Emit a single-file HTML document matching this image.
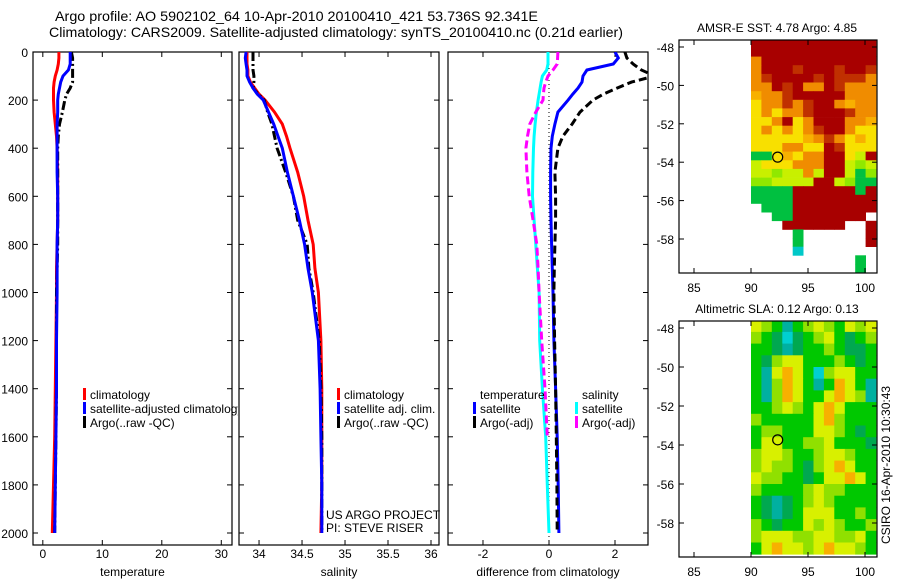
<!DOCTYPE html>
<html><head><meta charset="utf-8"><style>
html,body{margin:0;padding:0;background:#fff;}
svg{display:block;font-family:"Liberation Sans",sans-serif;}
</style></head><body>
<svg id="fig" width="900" height="580" viewBox="0 0 900 580" xmlns="http://www.w3.org/2000/svg">
<text x="55" y="21" font-size="14" textLength="483" lengthAdjust="spacingAndGlyphs">Argo profile: AO 5902102_64 10-Apr-2010 20100410_421 53.736S 92.341E</text>
<text x="49" y="37" font-size="14" textLength="574" lengthAdjust="spacingAndGlyphs">Climatology: CARS2009. Satellite-adjusted climatology: synTS_20100410.nc (0.21d earlier)</text>
<defs>
<clipPath id="c1"><rect x="33" y="52" width="205" height="493"/></clipPath>
<clipPath id="c2"><rect x="239" y="52" width="200" height="493"/></clipPath>
<clipPath id="c3"><rect x="448" y="52" width="200" height="493"/></clipPath>
</defs>
<g id="plots"></g>
</svg>
<script>
// ---- profile data ----
const depths = [0,25,50,75,100,125,150,175,200,250,300,350,400,500,600,700,800,900,1000,1200,1400,1600,1800,2000];
const tempClim = [2.7,2.7,2.6,2.4,2.1,1.9,1.8,1.8,1.8,1.9,2.1,2.3,2.4,2.5,2.5,2.5,2.4,2.3,2.3,2.2,2.1,2.0,1.8,1.6];
const tempSat  = [4.6,4.6,4.6,4.3,3.4,3.0,2.8,2.6,2.5,2.5,2.4,2.4,2.4,2.4,2.5,2.5,2.4,2.4,2.4,2.3,2.3,2.2,2.1,2.0];
const tempArgo = [4.8,5.0,5.0,5.0,5.0,5.0,4.6,4.0,3.7,3.3,2.8,2.6,2.5,2.5,2.5,2.5,2.5,2.4,2.3,2.3,2.3,2.2,2.1,2.0];
const salClim  = [33.86,33.86,33.86,33.87,33.87,33.90,33.95,34.00,34.07,34.18,34.27,34.32,34.36,34.45,34.52,34.57,34.63,34.65,34.69,34.72,34.73,34.73,34.73,34.72];
const salSat   = [33.85,33.84,33.85,33.86,33.86,33.89,33.93,33.98,34.05,34.11,34.17,34.22,34.27,34.33,34.40,34.47,34.53,34.57,34.62,34.69,34.71,34.72,34.73,34.73];
const salArgo  = [33.93,33.93,33.93,33.93,33.94,33.94,33.93,33.99,34.06,34.10,34.15,34.18,34.21,34.31,34.40,34.45,34.56,34.58,34.63,34.70,34.72,34.73,34.73,34.73];
const dTempSat = [2.0,2.1,1.95,1.15,1.03,1.0,0.88,0.72,0.58,0.27,0.18,0.1,0.06,0.05,0.05,0.06,0.08,0.1,0.12,0.15,0.2,0.25,0.28,0.3];
const dTempArgo= [2.3,2.36,2.55,2.8,3.2,2.5,2.06,1.65,1.33,0.94,0.7,0.42,0.27,0.18,0.2,0.2,0.18,0.16,0.15,0.17,0.2,0.22,0.24,0.25];
const dSalSat  = [-0.03,-0.03,-0.03,-0.07,-0.2,-0.24,-0.27,-0.3,-0.33,-0.38,-0.42,-0.45,-0.47,-0.49,-0.5,-0.45,-0.4,-0.35,-0.3,-0.28,-0.2,-0.1,-0.05,0.0];
const dSalArgo = [0.27,0.26,0.25,0.12,-0.03,-0.1,-0.15,-0.17,-0.18,-0.4,-0.58,-0.65,-0.7,-0.67,-0.6,-0.48,-0.37,-0.33,-0.3,-0.22,-0.12,-0.05,null,null];
const depthTicks = [0,200,400,600,800,1000,1200,1400,1600,1800,2000];
const tempTicks = [0,10,20,30];
const salTicks = ["34","34.5","35","35.5","36"];
const diffTicks = [-2,0,2];
// ---- map data ----
const lonTicks = [85,90,95,100];
const latTicks = [-48,-50,-52,-54,-56,-58];
const sstRows = [
"RRRRRRRRRRRR","RRRRRRRRRRRR","ORRRRRRRRRRR","ORRRrRRRrRRr","OrRRRRrRrrrO",
"OORrROORrOOO","oOOrRRRRROOO","YOOrOrRROoOO","YOYOOrRRRrOO","YYORYORRROOo",
"YOYOYOrRROYY","YYYYYoOrOYoY","YYYOOYYRrYYY","GGYoYOORRYyR","yYYYOOORRyLy",
"yyLyyOyRRyGL","LLyyyyRRyLGG","GGGGRRRRRRGR","GGGGRRRRRRRR",".GGGRRRRRRRR",
"..GGRRRRRRR.","...RRRRRR..R","....G......R","....G......R","....C.......",
"..........G.","..........G."];
const slaRows = [
"YLGCGLYLGYLY","LGDcDGLYGDGL","GGDCDGGLGDDG","GDLYYGGGLGDG","GCYOYGcLYYGG",
"GCLOYGCGOYGC","GCLOYGGYOYLC","GGLYLGYOYGGG","LGGGGGYOLGGG","GLLGGGYYLGDG",
"GYYGGLLYGGGD","LYYLGGLYYLGG","LYLLGDLYOYGG","YLLGGDGYYOYG","LGGGGLYLLGGG",
"GDCDGLYLGGGG","GDCDGYYYGGLG","LGDGGYLYLGGL","LYYYLLYYLLYG","GYOYYLYOYYLG"];
const argoLon = 92.341, argoLat = -53.736;

const NS="http://www.w3.org/2000/svg";
const root=document.getElementById('plots');
function mk(tag,attrs,parent){const e=document.createElementNS(NS,tag);for(const k in attrs)e.setAttribute(k,attrs[k]);(parent||root).appendChild(e);return e;}
const Y0=52, YS=0.2405;
const yD=d=>Y0+d*YS;

function panel(x0,x1,xmin,xmax,name,showY,ticks,label,clip){
  const g=mk('g',{});
  
  
  const sx=v=>x0+(v-xmin)/(xmax-xmin)*(x1-x0);
  const frame=mk('rect',{x:x0,y:52,width:x1-x0,height:493,fill:'none',stroke:'#000','stroke-width':1.2},g);
  
  
  depthTicks.forEach(d=>{
    mk('line',{x1:x0,x2:x0+5,y1:yD(d),y2:yD(d),stroke:'#000'},g);
    mk('line',{x1:x1,x2:x1-5,y1:yD(d),y2:yD(d),stroke:'#000'},g);
    if(showY){const t=mk('text',{x:x0-5,y:yD(d)+5,'font-size':12,'text-anchor':'end'},g);t.textContent=d;
      
      }
  });
  ticks.forEach(v=>{const X=sx(+v);
    mk('line',{x1:X,x2:X,y1:545,y2:540,stroke:'#000'},g);
    mk('line',{x1:X,x2:X,y1:52,y2:57,stroke:'#000'},g);
    const t=mk('text',{x:X,y:558,'font-size':12,'text-anchor':'middle'},g);t.textContent=v;
    
    
  });
  const xl=mk('text',{x:(x0+x1)/2,y:576,'font-size':12,'text-anchor':'middle'},g);xl.textContent=label;
  
  
  return {g,sx};
}
function series(p,vals,color,dash,name,clip){
  let d='';let pen=false;
  vals.forEach((v,i)=>{if(v===null){pen=false;return;}d+=(pen?'L':'M')+p.sx(v).toFixed(1)+','+yD(depths[i]).toFixed(1);pen=true;});
  const e=mk('path',{d:d,fill:'none',stroke:color,'stroke-width':3,'stroke-dasharray':dash||'none','clip-path':clip},p.g);
  
  
}
function legend(g,x,y,items,clip){
  items.forEach((it,i)=>{
    if(it[1]) mk('rect',{x:x,y:y+i*14-11,width:3,height:12,fill:it[1]},g);
    const t=mk('text',{x:x+7,y:y+i*14,'font-size':12,'clip-path':clip||''},g);t.textContent=it[0];
    
    
  });
}
const DD='9,3,2,3';
const p1=panel(33,232,-1.65,31.8,'temperature',true,tempTicks,'temperature');
series(p1,tempClim,'#f00',null,'temp-climatology-line');
series(p1,tempArgo,'#000',DD,'temp-argo-line');
series(p1,tempSat,'#00f',null,'temp-satellite-line');
legend(p1.g,83,399,[['climatology','#f00'],['satellite-adjusted climatology','#00f'],['Argo(..raw -QC)','#000']],'url(#c1)');

const p2=panel(239,439,33.767,36.093,'salinity',false,salTicks,'salinity');
series(p2,salClim,'#f00',null,'sal-climatology-line');
series(p2,salArgo,'#000',DD,'sal-argo-line');
series(p2,salSat,'#00f',null,'sal-satellite-line');
legend(p2.g,337,399,[['climatology','#f00'],['satellite adj. clim.','#00f'],['Argo(..raw -QC)','#000']]);
let t=mk('text',{x:326,y:519,'font-size':12},p2.g);t.textContent='US ARGO PROJECT';


t=mk('text',{x:326,y:532,'font-size':12},p2.g);t.textContent='PI: STEVE RISER';



const p3=panel(448,648,-3.06,3.0,'difference',false,diffTicks,'difference from climatology');
mk('line',{x1:p3.sx(0),x2:p3.sx(0),y1:52,y2:545,stroke:'#000','stroke-dasharray':'1,3'},p3.g);
series(p3,dSalSat,'#0ff',null,'diff-sal-satellite-line','url(#c3)');
series(p3,dSalArgo,'#f0f','8,4','diff-sal-argo-line','url(#c3)');
series(p3,dTempSat,'#00f',null,'diff-temp-satellite-line','url(#c3)');
series(p3,dTempArgo,'#000','8,4','diff-temp-argo-line','url(#c3)');
legend(p3.g,473,399,[['temperature',null],['satellite','#00f'],['Argo(-adj)','#000']]);
legend(p3.g,575,399,[['salinity',null],['satellite','#0ff'],['Argo(-adj)','#f0f']]);

// ---- maps ----
const sstCol={R:'#a80000',r:'#c03000',O:'#f08c00',o:'#f8b000',Y:'#f8e000',y:'#c8f000',L:'#90e800',G:'#00c040',C:'#00c8c8'};
const slaCol={G:'#00c800',D:'#00a850',C:'#00b0a0',c:'#00d0d0',L:'#90e000',Y:'#d8f000',O:'#f8b000'};
function mapPanel(name,top,bottom,latTop,pxDeg,rows,cols,cellLat,title){
  const g=mk('g',{});
  
  
  const sx=lon=>751+(lon-90)*11.4;
  const sy=lat=>latTop+(-48-lat)*pxDeg;
  const cw=(876-751)/12;
  rows.forEach((row,r)=>{
    for(let c=0;c<row.length;c++){const k=row[c];if(!cols[k])continue;
      const lat0=-47.6-r*cellLat;
      const y=Math.max(sy(lat0),top);
      const cell=mk('rect',{x:(751+c*cw).toFixed(1),y:y.toFixed(1),width:(cw+0.4).toFixed(1),height:(sy(lat0-cellLat)-y+0.4).toFixed(1),fill:cols[k]},g);
      
      
    }
  });
  mk('rect',{x:679,y:top,width:198,height:bottom-top,fill:'none',stroke:'#000','stroke-width':1.2},g);
  latTicks.forEach(l=>{const Y=sy(l);
    mk('line',{x1:679,x2:684,y1:Y,y2:Y,stroke:'#000'},g);mk('line',{x1:877,x2:872,y1:Y,y2:Y,stroke:'#000'},g);
    const tt=mk('text',{x:674,y:Y+5,'font-size':12,'text-anchor':'end'},g);tt.textContent=l;
    
    });
  lonTicks.forEach(l=>{const X=sx(l);
    mk('line',{x1:X,x2:X,y1:bottom,y2:bottom-5,stroke:'#000'},g);mk('line',{x1:X,x2:X,y1:top,y2:top+5,stroke:'#000'},g);
    const tt=mk('text',{x:X,y:bottom+19,'font-size':12,'text-anchor':'middle'},g);tt.textContent=l;
    
    });
  const tt=mk('text',{x:777,y:top-8,'font-size':12,'text-anchor':'middle'},g);tt.textContent=title;
  
  
  const ci=mk('circle',{cx:sx(argoLon),cy:sy(argoLat),r:5,fill:'none',stroke:'#000','stroke-width':1.2},g);
  
  
}
mapPanel('sst',40,273,47,19.2,sstRows,sstCol,0.45,'AMSR-E SST: 4.78 Argo: 4.85');
mapPanel('sla',321,557,328,19.5,slaRows,slaCol,0.6,'Altimetric SLA: 0.12 Argo: 0.13');
t=mk('text',{x:0,y:0,'font-size':12,'text-anchor':'middle',transform:'translate(890,465) rotate(-90)'});
t.textContent='CSIRO 16-Apr-2010 10:30:43';


</script>
</body></html>
